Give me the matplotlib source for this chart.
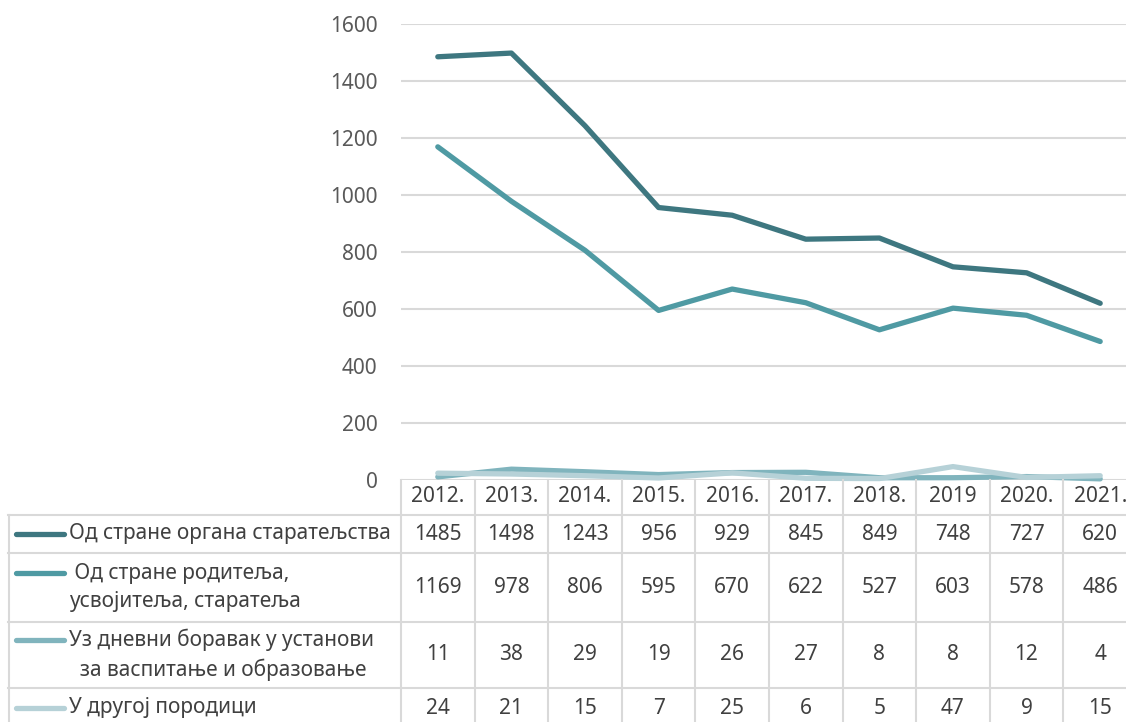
import matplotlib.pyplot as plt
import numpy as np

plt.rcParams['font.family'] = ['Noto Sans', 'DejaVu Sans']

years = ['2012.', '2013.', '2014.', '2015.', '2016.', '2017.', '2018.', '2019', '2020.', '2021.']
organ = [1485, 1498, 1243, 956, 929, 845, 849, 748, 727, 620]
roditelji = [1169, 978, 806, 595, 670, 622, 527, 603, 578, 486]
boravak = [11, 38, 29, 19, 26, 27, 8, 8, 12, 4]
porodica = [24, 21, 15, 7, 25, 6, 5, 47, 9, 15]

labels = ['Од стране органа старатељства',
          ' Од стране родитеља,\nусвојитеља, старатеља',
          'Уз дневни боравак у установи\n  за васпитање и образовање',
          'У другој породици']
colors = ['#3e7780', '#4f9aa3', '#80b4bd', '#b6d1d7']
series = [organ, roditelji, boravak, porodica]

W, H = 1126, 722
fig = plt.figure(figsize=(W / 100, H / 100), dpi=100)

# plot area in pixels
x0, x1 = 401, 1137
ytop, ybot = 24, 480
ax = fig.add_axes([x0 / W, 1 - ybot / H, (x1 - x0) / W, (ybot - ytop) / H])
x = np.arange(len(years))
for vals, c in zip(series, colors):
    ax.plot(x, vals, color=c, lw=3.8, solid_capstyle='round',
            solid_joinstyle='round', clip_on=False, zorder=3)
ax.set_xlim(-0.5, len(years) - 0.5)
ax.set_ylim(0, 1600)
ax.set_yticks(range(0, 1601, 200))
ax.set_xticks([])
ax.yaxis.grid(True, color='#d9d9d9', lw=1.5)
ax.set_axisbelow(True)
for s in ax.spines.values():
    s.set_visible(False)
ax.tick_params(axis='y', length=0, pad=17, labelsize=15, labelcolor='#595959')

# data table below the chart
unit = (x1 - x0) / len(years)
tleft = 8
tx0 = -0.5 - (x0 - tleft) / unit
tab = fig.add_axes([tleft / W, 0, (x1 - tleft) / W, (H - ybot) / H])
tab.set_xlim(tx0, len(years) - 0.5)
tab.set_ylim(H, ybot)
tab.axis('off')

def px(p):
    return tx0 + (p - tleft) / unit

bc = '#d9d9d9'
row_edges = [515, 553, 622, 688]
for y in row_edges:
    tab.plot([tx0, len(years) - 0.5], [y, y], color=bc, lw=1.5, clip_on=False)
for k in range(len(years) + 1):
    tab.plot([-0.5 + k, -0.5 + k], [ybot, H], color=bc, lw=1.5, clip_on=False)
tab.plot([px(9), px(9)], [515, H], color=bc, lw=1.5, clip_on=False)

tc = '#404040'
fs = 15
for i, yr in enumerate(years):
    tab.text(i, 497, yr, ha='center', va='center', fontsize=fs, color=tc)

row_centers = [534, 587.5, 655, 708]
key_y = [534, 573, 640, 708]
for vals, lab, c, yc, ky in zip(series, labels, colors, row_centers, key_y):
    for i, v in enumerate(vals):
        tab.text(i, yc, str(v), ha='center', va='center', fontsize=fs, color=tc)
    tab.plot([px(16), px(64)], [ky, ky], color=c, lw=3.8, solid_capstyle='round')
    tab.text(px(69), yc, lab, ha='left', va='center', fontsize=fs, color=tc,
             linespacing=1.45)

fig.savefig('out.png', dpi=100)
